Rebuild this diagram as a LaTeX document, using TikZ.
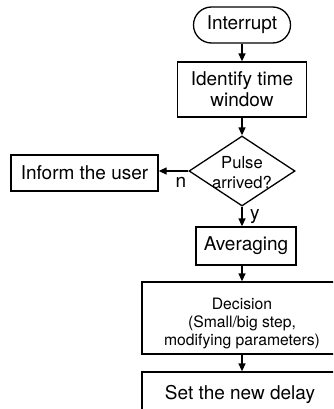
\documentclass[tikz,border=0pt]{standalone}
\usepackage{fontspec}
\setmainfont{TeX Gyre Heros}
\usetikzlibrary{shapes.geometric,shapes.misc,arrows.meta}
\begin{document}
\begin{tikzpicture}[x=1pt,y=-1pt,
  base/.style={draw, line width=1.3pt, inner sep=0pt, align=center, font=\fontsize{19}{21}\selectfont},
  procbox/.style={base, rectangle},
  termbox/.style={base, rounded rectangle},
  decbox/.style={draw, line width=1.3pt, diamond, inner sep=0pt},
  arr/.style={line width=1.3pt, -{Triangle[length=8pt,width=7pt]}},
  lbl/.style={inner sep=0pt, font=\fontsize{19}{21}\selectfont}]
\useasboundingbox (0,0) rectangle (333,409);
\clip (0,0) rectangle (333,409);
\node[termbox, minimum width=97, minimum height=36] (int) at (242,25) {Interrupt};
\node[procbox, minimum width=129, minimum height=55] (ident) at (242,89.5) {Identify time\\window};
\node[decbox, minimum width=106, minimum height=70] (dia) at (242,171) {};
\node[inner sep=0pt, align=center, font=\fontsize{16.6}{20}\selectfont] (diatext) at (242,173) {Pulse\\arrived?};
\node[procbox, minimum width=147, minimum height=36] (inform) at (84.5,173) {Inform the user};
\node[procbox, minimum width=100, minimum height=38] (avg) at (246,246) {Averaging};
\node[procbox, minimum width=200, minimum height=72] (dec) at (242,318) {};
\node[inner sep=0pt, align=center, font=\fontsize{15.7}{18}\selectfont] (dectext) at (242,323) {Decision\\(Small/big step,\\modifying parameters)};
\node[procbox, minimum width=196, minimum height=44] (set) at (240,394) {Set the new delay};
\draw[arr] (int.south) -- (ident.north);
\draw[arr] (ident.south) -- (dia.north);
\draw[arr] (dia.west) -- (dia.west -| inform.east);
\draw[arr] (dia.south) -- (dia.south |- avg.north);
\draw[arr] (avg.south -| dia.south) -- (dia.south |- dec.north);
\draw[arr] (dec.south -| dia.south) -- (dia.south |- set.north);
\node[lbl, anchor=north east] (nlab) at ([xshift=-2,yshift=-6]dia.west) {n};
\node[lbl, anchor=north west] (ylab) at ([xshift=8,yshift=-3]dia.south) {y};
\end{tikzpicture}
\end{document}
